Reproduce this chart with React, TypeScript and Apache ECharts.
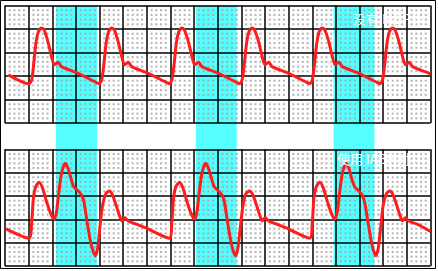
import React, { useEffect, useRef } from "react";
import * as echarts from "echarts";

// time in grid divisions (0..18), pressure in grid divisions (0..5)
const topWave: number[][] = [
  [0.14, 2.05],
  [1.01, 1.67], [1.13, 1.84], [1.2, 2.39], [1.31, 3.41], [1.41, 3.88], [1.53, 4.04], [1.65, 3.97], [1.73, 3.75], [1.83, 3.41], [1.97, 2.82], [2.08, 2.48], [2.15, 2.52], [2.25, 2.59], [2.39, 2.4], [3.03, 2.14], [3.87, 1.72],
  [3.98, 1.67], [4.09, 1.84], [4.17, 2.39], [4.28, 3.41], [4.38, 3.88], [4.5, 4.04], [4.62, 3.97], [4.7, 3.75], [4.8, 3.41], [4.94, 2.82], [5.05, 2.48], [5.12, 2.52], [5.22, 2.59], [5.36, 2.4], [6.0, 2.14], [6.84, 1.72],
  [6.95, 1.67], [7.06, 1.84], [7.14, 2.39], [7.25, 3.41], [7.35, 3.88], [7.47, 4.04], [7.58, 3.97], [7.67, 3.75], [7.77, 3.41], [7.91, 2.82], [8.02, 2.48], [8.09, 2.52], [8.19, 2.59], [8.33, 2.4], [8.97, 2.14], [9.81, 1.72],
  [9.92, 1.67], [10.03, 1.84], [10.11, 2.39], [10.22, 3.41], [10.32, 3.88], [10.44, 4.04], [10.55, 3.97], [10.64, 3.75], [10.74, 3.41], [10.88, 2.82], [10.99, 2.48], [11.06, 2.52], [11.16, 2.59], [11.3, 2.4], [11.94, 2.14], [12.78, 1.72],
  [12.89, 1.67], [13.0, 1.84], [13.08, 2.39], [13.19, 3.41], [13.29, 3.88], [13.41, 4.04], [13.52, 3.97], [13.61, 3.75], [13.71, 3.41], [13.85, 2.82], [13.96, 2.48], [14.03, 2.52], [14.13, 2.59], [14.27, 2.4], [14.91, 2.14], [15.75, 1.72],
  [15.86, 1.67], [15.97, 1.84], [16.05, 2.39], [16.16, 3.41], [16.26, 3.88], [16.38, 4.04], [16.49, 3.97], [16.58, 3.75], [16.68, 3.41], [16.82, 2.82], [16.93, 2.48], [17.0, 2.52], [17.1, 2.59], [17.24, 2.4], [17.88, 2.14], [17.98, 2.09],
];

const bottomWave: number[][] = [
  [0.04, 1.59],
  [1.01, 1.19], [1.13, 1.9], [1.2, 2.9], [1.3, 3.4], [1.45, 3.59], [1.59, 3.33], [1.76, 2.75], [1.9, 2.33], [2.04, 2.04], [2.09, 2.01], [2.18, 2.33], [2.28, 3.18], [2.39, 3.97], [2.55, 4.4], [2.67, 4.18], [2.79, 3.76], [2.91, 3.4], [3.1, 3.21], [3.24, 3.04], [3.34, 2.75], [3.45, 2.04], [3.59, 1.19], [3.71, 0.69], [3.82, 0.44], [3.92, 0.76], [4.01, 1.62], [4.13, 2.61], [4.27, 3.11], [4.41, 3.21], [4.55, 3.04], [4.72, 2.54], [4.86, 2.11], [4.94, 1.93], [5.07, 2.07], [5.21, 1.93], [5.56, 1.79], [5.94, 1.64],
  [6.95, 1.19], [7.06, 1.9], [7.13, 2.9], [7.23, 3.4], [7.39, 3.59], [7.53, 3.33], [7.7, 2.75], [7.84, 2.33], [7.98, 2.04], [8.03, 2.01], [8.12, 2.33], [8.22, 3.18], [8.33, 3.97], [8.49, 4.4], [8.61, 4.18], [8.73, 3.76], [8.85, 3.4], [9.03, 3.21], [9.18, 3.04], [9.28, 2.75], [9.39, 2.04], [9.53, 1.19], [9.64, 0.69], [9.75, 0.44], [9.85, 0.76], [9.95, 1.62], [10.07, 2.61], [10.2, 3.11], [10.34, 3.21], [10.49, 3.04], [10.66, 2.54], [10.8, 2.11], [10.88, 1.93], [11.01, 2.07], [11.15, 1.93], [11.5, 1.79], [11.88, 1.64],
  [12.89, 1.19], [13.0, 1.9], [13.07, 2.9], [13.17, 3.4], [13.32, 3.59], [13.47, 3.33], [13.64, 2.75], [13.78, 2.33], [13.91, 2.04], [13.96, 2.01], [14.06, 2.33], [14.16, 3.18], [14.27, 3.97], [14.42, 4.4], [14.55, 4.18], [14.66, 3.76], [14.79, 3.4], [14.97, 3.21], [15.11, 3.04], [15.21, 2.75], [15.33, 2.04], [15.47, 1.19], [15.58, 0.69], [15.69, 0.44], [15.79, 0.76], [15.89, 1.62], [16.0, 2.61], [16.14, 3.11], [16.28, 3.21], [16.42, 3.04], [16.59, 2.54], [16.73, 2.11], [16.81, 1.93], [16.94, 2.07], [17.08, 1.93], [17.43, 1.79], [18.0, 1.48],
];

// balloon (diastolic) bands, in divisions
const bandStart = [2.15, 8.07, 13.9];
const bandEnd = [3.89, 9.8, 15.63];

const topLabel = "没有 IABP 时";
const bottomLabel = "使用 IABP 时";

const COLS = 18;
const ROWS = 5;

function makeDots(): number[][] {
  const pts: number[][] = [];
  for (let i = 0; i < COLS; i++)
    for (let j = 0; j < ROWS; j++)
      for (let k = 1; k <= 4; k++)
        for (let m = 1; m <= 4; m++) pts.push([i + k / 5, j + m / 5]);
  return pts;
}

export default function App() {
  const ref = useRef<HTMLDivElement>(null);
  useEffect(() => {
    if (!ref.current) return;
    const chart = echarts.init(ref.current, undefined, { renderer: "svg" });
    const dots = makeDots();
    const gridAxisX = (gi: number) => ({
      type: "value",
      gridIndex: gi,
      min: 0,
      max: COLS,
      interval: 1,
      z: 3,
      axisLabel: { show: false },
      axisTick: { show: false },
      axisLine: { show: false },
      splitLine: { show: true, lineStyle: { color: "#000", width: 1.5 } },
    });
    const gridAxisY = (gi: number) => ({
      type: "value",
      gridIndex: gi,
      min: 0,
      max: ROWS,
      interval: 1,
      z: 3,
      axisLabel: { show: false },
      axisTick: { show: false },
      axisLine: { show: false },
      splitLine: { show: true, lineStyle: { color: "#000", width: 1.5 } },
    });
    const option: any = {
      animation: false,
      backgroundColor: "#fff",
      grid: [
        { left: 5, top: 5.5, width: 425.5, height: 117.5 },
        { left: 5, top: 149.3, width: 425.5, height: 116.7 },
        { left: 5, top: 5.5, width: 425.5, height: 260.8 },
      ],
      xAxis: [
        gridAxisX(0),
        gridAxisX(1),
        { type: "value", gridIndex: 2, min: 0, max: COLS, show: false, splitLine: { show: false } },
      ],
      yAxis: [
        gridAxisY(0),
        gridAxisY(1),
        { type: "value", gridIndex: 2, min: 0, max: 1, show: false, splitLine: { show: false } },
      ],
      series: [
        {
          type: "line",
          xAxisIndex: 2,
          yAxisIndex: 2,
          z: 1,
          data: [],
          silent: true,
          markArea: {
            silent: true,
            itemStyle: { color: "#55ffff", opacity: 1 },
            data: bandStart.map((s, i) => [{ xAxis: s }, { xAxis: bandEnd[i] }]),
          },
        },
        {
          type: "scatter",
          xAxisIndex: 0,
          yAxisIndex: 0,
          z: 2,
          silent: true,
          symbol: "rect",
          symbolSize: 2,
          itemStyle: { color: "#a0a0a0" },
          data: dots,
        },
        {
          type: "scatter",
          xAxisIndex: 1,
          yAxisIndex: 1,
          z: 2,
          silent: true,
          symbol: "rect",
          symbolSize: 2,
          itemStyle: { color: "#a0a0a0" },
          data: dots,
        },
        {
          type: "line",
          xAxisIndex: 0,
          yAxisIndex: 0,
          z: 5,
          data: topWave,
          showSymbol: false,
          symbol: "none",
          smooth: 0.25,
          lineStyle: { color: "#ff1c1c", width: 3 },
        },
        {
          type: "line",
          xAxisIndex: 1,
          yAxisIndex: 1,
          z: 5,
          data: bottomWave,
          showSymbol: false,
          symbol: "none",
          smooth: 0.25,
          lineStyle: { color: "#ff1c1c", width: 3 },
        },
      ],
      graphic: [
        {
          type: "rect",
          z: 0,
          silent: true,
          shape: { x: 0.5, y: 0.5, width: 435, height: 268 },
          style: { fill: "none", stroke: "#000", lineWidth: 1 },
        },
        {
          type: "text",
          z: 20,
          x: 353,
          y: 12,
          style: {
            text: topLabel,
            fill: "#fff",
            font: '13px "Noto Sans CJK SC", sans-serif',
          },
        },
        {
          type: "text",
          z: 20,
          x: 337,
          y: 152,
          style: {
            text: bottomLabel,
            fill: "#fff",
            font: '13px "Noto Sans CJK SC", sans-serif',
          },
        },
      ],
    };
    chart.setOption(option);
    return () => chart.dispose();
  }, []);
  return (
    <div
      ref={ref}
      style={{ position: "fixed", left: 0, top: 0, width: 438, height: 271 }}
    />
  );
}
